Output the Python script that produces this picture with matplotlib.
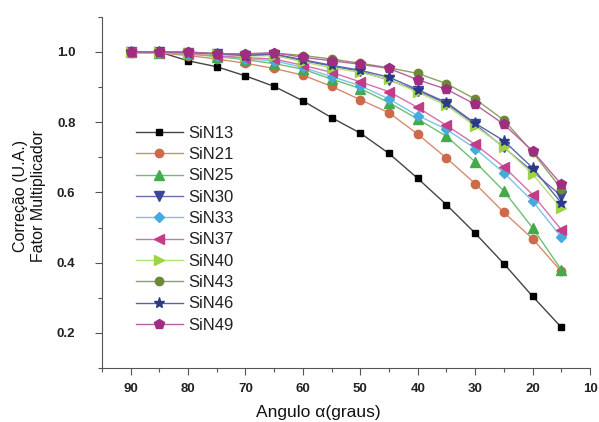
import matplotlib
matplotlib.use("Agg")
import matplotlib.pyplot as plt
from matplotlib.ticker import MultipleLocator

plt.rcParams['font.family'] = ['Liberation Sans', 'DejaVu Sans']

# angles (graus)
angulo = [90, 85, 80, 75, 70, 65, 60, 55, 50, 45, 40, 35, 30, 25, 20, 15]

sin13 = [1.000, 1.000, 0.975, 0.958, 0.932, 0.902, 0.861, 0.813, 0.769, 0.711, 0.640, 0.565, 0.484, 0.397, 0.304, 0.216]
sin21 = [0.998, 0.997, 0.990, 0.980, 0.968, 0.953, 0.934, 0.902, 0.864, 0.827, 0.766, 0.698, 0.625, 0.543, 0.468, 0.375]
sin25 = [0.999, 0.998, 0.994, 0.987, 0.978, 0.967, 0.951, 0.923, 0.896, 0.856, 0.809, 0.760, 0.687, 0.604, 0.499, 0.380]
sin30 = [1.000, 0.999, 0.998, 0.995, 0.990, 0.992, 0.975, 0.960, 0.945, 0.920, 0.890, 0.853, 0.794, 0.728, 0.660, 0.590]
sin33 = [0.999, 0.998, 0.995, 0.989, 0.981, 0.975, 0.956, 0.930, 0.904, 0.866, 0.819, 0.780, 0.725, 0.656, 0.575, 0.473]
sin37 = [0.999, 0.998, 0.996, 0.990, 0.984, 0.980, 0.962, 0.942, 0.915, 0.887, 0.842, 0.791, 0.737, 0.673, 0.594, 0.494]
sin40 = [1.000, 0.999, 0.997, 0.993, 0.988, 0.990, 0.972, 0.955, 0.942, 0.922, 0.885, 0.848, 0.789, 0.730, 0.652, 0.555]
sin43 = [1.000, 1.000, 1.000, 0.995, 0.993, 0.997, 0.990, 0.980, 0.968, 0.955, 0.939, 0.910, 0.866, 0.806, 0.715, 0.610]
sin46 = [1.000, 1.000, 0.998, 0.995, 0.990, 0.994, 0.978, 0.962, 0.948, 0.928, 0.893, 0.856, 0.797, 0.747, 0.670, 0.570]
sin49 = [1.000, 1.000, 1.000, 0.995, 0.995, 0.998, 0.985, 0.975, 0.965, 0.953, 0.921, 0.894, 0.851, 0.794, 0.718, 0.623]

series = [
    ("SiN13", sin13, "#000000", "#444444", "s", 5),
    ("SiN21", sin21, "#cc6a4a", "#d88a70", "o", 6),
    ("SiN25", sin25, "#44aa4c", "#6cc070", "^", 7),
    ("SiN30", sin30, "#3c4896", "#6870b0", "v", 7),
    ("SiN33", sin33, "#48aadc", "#7cc4e6", "D", 5.5),
    ("SiN37", sin37, "#c43c88", "#d670a8", "<", 7),
    ("SiN40", sin40, "#9cd444", "#b6e07a", ">", 7),
    ("SiN43", sin43, "#6a8a36", "#8aa262", "o", 6),
    ("SiN46", sin46, "#2c3888", "#5a64a6", "*", 8),
    ("SiN49", sin49, "#a02e80", "#b862a0", "p", 7),
]

fig = plt.figure(figsize=(5.99, 4.22), dpi=100)
ax = fig.add_axes([0.170, 0.128, 0.815, 0.832])

for name, vals, mcol, lcol, mk, ms in series:
    ax.plot(angulo, vals, color=lcol, lw=1.0, marker=mk, ms=ms,
            markerfacecolor=mcol, markeredgecolor=mcol, label=name)

ax.set_xlim(95, 10)
ax.set_ylim(0.1, 1.1)
ax.xaxis.set_major_locator(MultipleLocator(10))
ax.xaxis.set_minor_locator(MultipleLocator(5))
ax.set_yticks([0.2, 0.4, 0.6, 0.8, 1.0])
ax.yaxis.set_minor_locator(MultipleLocator(0.1))

for s in ["top", "right"]:
    ax.spines[s].set_visible(False)
for s in ["left", "bottom"]:
    ax.spines[s].set_color("#555555")
    ax.spines[s].set_linewidth(0.8)

ax.tick_params(which="major", direction="out", length=5, width=0.8, color="#555555",
               labelsize=9.5, labelcolor="#222222")
ax.tick_params(axis="y", which="major", pad=14)
ax.tick_params(axis="x", which="major", pad=6)
ax.tick_params(which="minor", direction="out", length=3, width=0.8, color="#555555")
for lab in ax.get_xticklabels() + ax.get_yticklabels():
    lab.set_fontweight("bold")

ax.set_xlabel("Angulo α(graus)", fontsize=12.5, color="#111111")
ax.xaxis.set_label_coords(0.443, -0.105)
ax.set_ylabel("Correção (U.A.)\nFator Multiplicador", fontsize=11.5, color="#111111",
              linespacing=1.25)
ax.yaxis.set_label_coords(-0.115, 0.49)

leg = ax.legend(loc="upper left", bbox_to_anchor=(0.07, 0.69), frameon=False,
                fontsize=12, handlelength=2.8, labelspacing=0.38, handletextpad=0.35,
                borderaxespad=0, borderpad=0)
for t in leg.get_texts():
    t.set_color("#222222")

fig.savefig("out.png", dpi=100)
